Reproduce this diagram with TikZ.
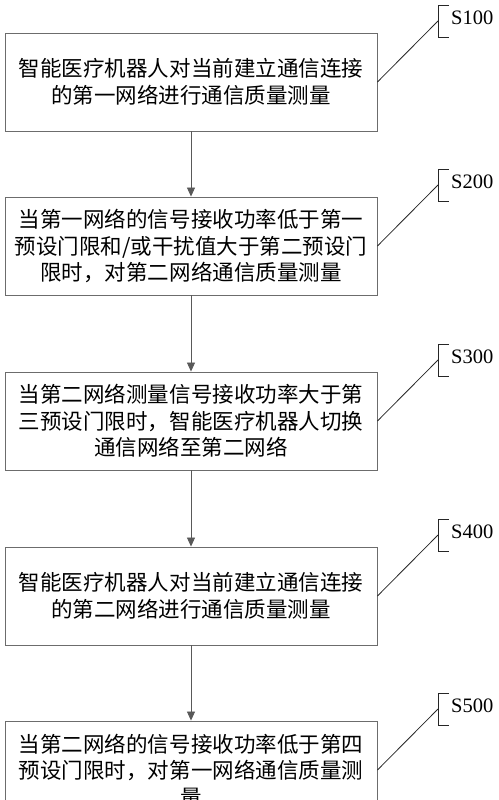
\documentclass[tikz,border=0pt]{standalone}
\usepackage{fontspec}
\setmainfont{Liberation Serif}
\newfontfamily\cjk{Noto Sans CJK SC}
\usetikzlibrary{arrows.meta}

\tikzset{
  stepbox/.style={draw=gray!85!black, line width=0.9bp, minimum width=372bp,
    minimum height=98bp, inner sep=0pt, align=center,
    font=\cjk\fontsize{21.5bp}{26.5bp}\selectfont},
  flow/.style={-{Triangle[length=9bp,width=8bp]}, draw=gray!70!black, line width=0.8bp},
  tag/.style={font=\fontsize{20.5bp}{24bp}\selectfont, anchor=west, inner sep=0pt},
  lead/.style={draw=black!85, line width=0.8bp}
}

\begin{document}
\begin{tikzpicture}[x=1bp, y=-1bp]

% Frame of the page
\path[use as bounding box, clip] (0,0) rectangle (499,800);

% Step boxes
\node[stepbox] (s1) at (191,82)  {智能医疗机器人对当前建立通信连接\\的第一网络进行通信质量测量};
\node[stepbox] (s2) at (191,246) {当第一网络的信号接收功率低于第一\\预设门限和/或干扰值大于第二预设门\\限时，对第二网络通信质量测量};
\node[stepbox] (s3) at (191,421) {当第二网络测量信号接收功率大于第\\三预设门限时，智能医疗机器人切换\\通信网络至第二网络};
\node[stepbox] (s4) at (191,596) {智能医疗机器人对当前建立通信连接\\的第二网络进行通信质量测量};
\node[stepbox] (s5) at (191,770) {当第二网络的信号接收功率低于第四\\预设门限时，对第一网络通信质量测\\量};

% Arrows between steps
\draw[flow] (s1) -- (s2);
\draw[flow] (s2) -- (s3);
\draw[flow] (s3) -- (s4);
\draw[flow] (s4) -- (s5);

% Step tags with brackets
\foreach \i/\ym in {1/21, 2/185, 3/360, 4/535, 5/709} {
  \coordinate (br\i) at (438,\ym);
  \draw[lead] (449,\ym-16) -- (438,\ym-16) -- (438,\ym+16) -- (449,\ym+16);
  \node[tag] (tag\i) at (451,\ym-3) {S\i00};
  \draw[lead] (s\i.east) -- (br\i);
}

\end{tikzpicture}
\end{document}
